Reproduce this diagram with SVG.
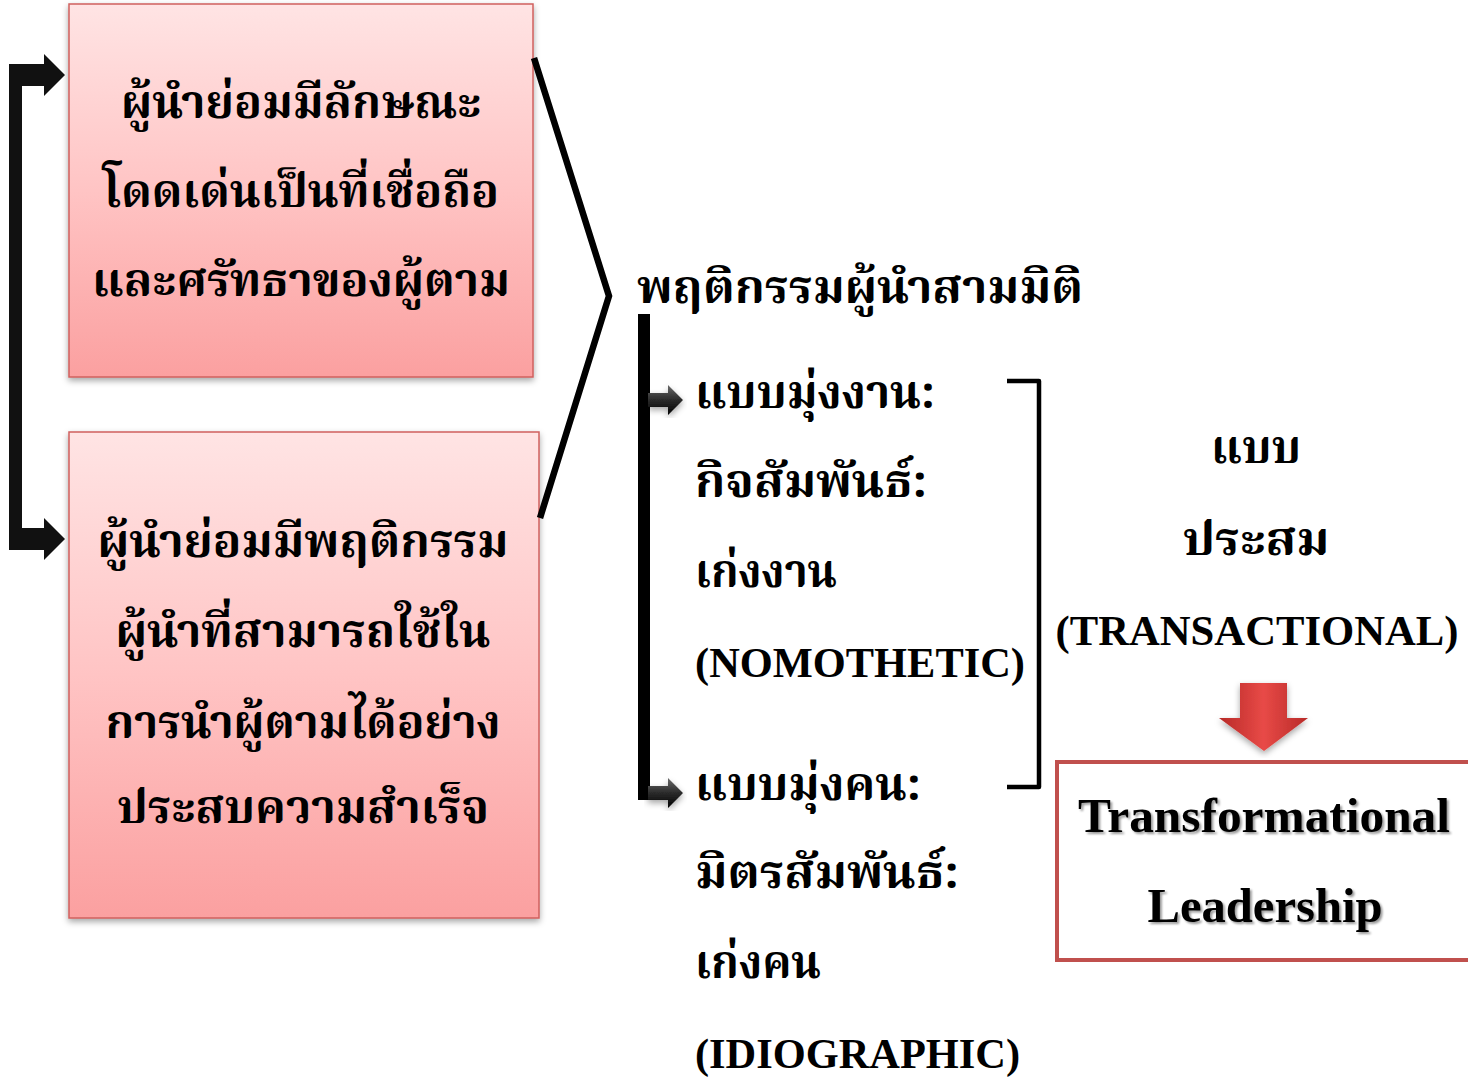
<svg xmlns="http://www.w3.org/2000/svg" width="1468" height="1079" viewBox="0 0 1468 1079">
<style>
.th{font-family:"Noto Serif Thai","Noto Sans Thai","TH Sarabun New","Garuda","Loma","Norasi","Noto Sans","DejaVu Sans",serif;font-weight:bold;fill:#000;font-size:46px}
.en{font-family:"Liberation Serif","Times New Roman",serif;font-weight:bold;fill:#000;font-size:42px}
.big{font-size:48px}
.mid{text-anchor:middle}
.box{fill:url(#pink);stroke:#D0605E;stroke-width:1.5}
</style>
<defs>
<linearGradient id="pink" x1="0" y1="0" x2="0" y2="1">
<stop offset="0" stop-color="#FFE4E4"/>
<stop offset="0.5" stop-color="#FFC4C4"/>
<stop offset="1" stop-color="#FBA0A0"/>
</linearGradient>
<linearGradient id="red" x1="0" y1="0" x2="1" y2="0">
<stop offset="0" stop-color="#B82A28"/>
<stop offset="0.5" stop-color="#E84A47"/>
<stop offset="1" stop-color="#B82A28"/>
</linearGradient>
<linearGradient id="dark" x1="0" y1="0" x2="0" y2="1">
<stop offset="0" stop-color="#6a6a6a"/>
<stop offset="0.5" stop-color="#2a2a2a"/>
<stop offset="1" stop-color="#000"/>
</linearGradient>
<filter id="sh" x="-10%" y="-10%" width="120%" height="120%">
<feDropShadow dx="0" dy="3" stdDeviation="3" flood-color="#000" flood-opacity="0.35"/>
</filter>
<filter id="tsh" x="-5%" y="-20%" width="110%" height="140%">
<feDropShadow dx="2" dy="2" stdDeviation="1.2" flood-color="#000" flood-opacity="0.4"/>
</filter>
</defs>
<rect width="1468" height="1079" fill="#fff"/>

<g id="box1">
<rect class="box" x="69" y="4" width="464" height="373" filter="url(#sh)"/>
<text class="th mid" x="301" y="118" textLength="360" lengthAdjust="spacingAndGlyphs">ผู้นำย่อมมีลักษณะ</text>
<text class="th mid" x="301" y="207" textLength="396" lengthAdjust="spacingAndGlyphs">โดดเด่นเป็นที่เชื่อถือ</text>
<text class="th mid" x="301" y="296" textLength="418" lengthAdjust="spacingAndGlyphs">และศรัทธาของผู้ตาม</text>
</g>

<g id="box2">
<rect class="box" x="69" y="432" width="470" height="486" filter="url(#sh)"/>
<text class="th mid" x="303" y="557" textLength="411" lengthAdjust="spacingAndGlyphs">ผู้นำย่อมมีพฤติกรรม</text>
<text class="th mid" x="303" y="647" textLength="375" lengthAdjust="spacingAndGlyphs">ผู้นำที่สามารถใช้ใน</text>
<text class="th mid" x="303" y="738" textLength="395" lengthAdjust="spacingAndGlyphs">การนำผู้ตามได้อย่าง</text>
<text class="th mid" x="303" y="823" textLength="372" lengthAdjust="spacingAndGlyphs">ประสบความสำเร็จ</text>
</g>

<g id="title">
<text class="th" x="637" y="303" textLength="446" lengthAdjust="spacingAndGlyphs">พฤติกรรมผู้นำสามมิติ</text>
</g>

<g id="nomothetic">
<text class="th" x="695" y="408" textLength="240" lengthAdjust="spacingAndGlyphs">แบบมุ่งงาน:</text>
<text class="th" x="695" y="497" textLength="232" lengthAdjust="spacingAndGlyphs">กิจสัมพันธ์:</text>
<text class="th" x="695" y="587" textLength="142" lengthAdjust="spacingAndGlyphs">เก่งงาน</text>
<text class="en" x="695" y="677" textLength="330" lengthAdjust="spacingAndGlyphs">(NOMOTHETIC)</text>
</g>

<g id="idiographic">
<text class="th" x="695" y="800" textLength="226" lengthAdjust="spacingAndGlyphs">แบบมุ่งคน:</text>
<text class="th" x="695" y="888" textLength="264" lengthAdjust="spacingAndGlyphs">มิตรสัมพันธ์:</text>
<text class="th" x="695" y="978" textLength="126" lengthAdjust="spacingAndGlyphs">เก่งคน</text>
<text class="en" x="695" y="1068" textLength="325" lengthAdjust="spacingAndGlyphs">(IDIOGRAPHIC)</text>
</g>

<g id="transactional">
<text class="th mid" x="1256" y="463" textLength="90" lengthAdjust="spacingAndGlyphs">แบบ</text>
<text class="th mid" x="1256" y="555" textLength="147" lengthAdjust="spacingAndGlyphs">ประสม</text>
<text class="en mid" x="1257" y="645" textLength="403" lengthAdjust="spacingAndGlyphs">(TRANSACTIONAL)</text>
</g>

<g id="transformational">
<rect x="1057" y="762" width="430" height="198" fill="#fff" stroke="#C0504D" stroke-width="4"/>
<g filter="url(#tsh)">
<text class="en big mid" x="1264" y="832" textLength="372" lengthAdjust="spacingAndGlyphs">Transformational</text>
<text class="en big mid" x="1265" y="922" textLength="235" lengthAdjust="spacingAndGlyphs">Leadership</text>
</g>
</g>

<g id="connectors">
<path d="M9 64 H44 V54 L65 75 L44 96 V86 H22 V528 H44 V518 L65 539 L44 560 V550 H9 Z" fill="#111"/>
<polyline points="534,58 609,296 540,518" fill="none" stroke="#000" stroke-width="6.5" stroke-linejoin="miter"/>
<rect x="638" y="314" width="12" height="486" fill="#000"/>
<path d="M648 393 H668 V385 L683 400 L668 415 V407 H648 Z" fill="url(#dark)" filter="url(#sh)"/>
<path d="M648 786 H668 V778 L683 793 L668 808 V800 H648 Z" fill="url(#dark)" filter="url(#sh)"/>
<path d="M1007 381 H1039 V787 H1007" fill="none" stroke="#000" stroke-width="4.5" stroke-linejoin="round"/>
<path d="M1240 683 H1287 V718 H1308 L1264 751 L1219 718 H1240 Z" fill="url(#red)" filter="url(#sh)"/>
</g>
</svg>
